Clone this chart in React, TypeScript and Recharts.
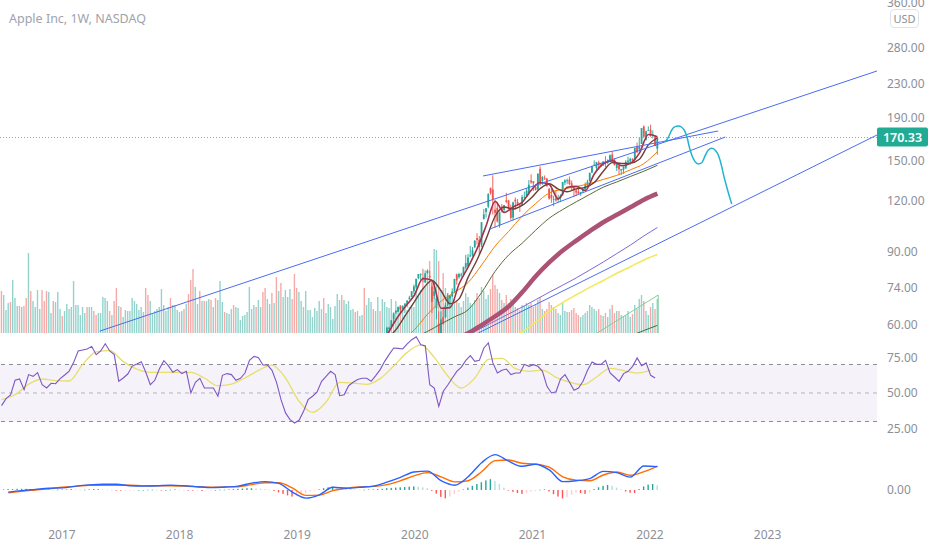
import {
  Bar,
  ComposedChart,
  Line,
  ReferenceArea,
  ReferenceLine,
  XAxis,
  YAxis,
} from 'recharts'

// week 0 is the first weekly bar on screen (mid 2016), week 291 is the week of 24 Jan 2022
const lastBarYear = 2022 + 23 / 365
const barCount = 292
const firstCandleWeek = 171

const yearTicks = [2017, 2018, 2019, 2020, 2021, 2022, 2023]
const priceTicks = [60, 74, 90, 120, 150, 190, 230, 280, 360]
const rsiTicks = [25, 50, 75]
const macdTicks = [0]
const lastPrice = 170.33

// weekly candles, 7 Oct 2019 .. 24 Jan 2022 (older ones sit below the visible price range)
const candleOpen = [
  56.6, 58.7, 59.4, 61.9, 64.3, 64.6, 66.5, 65.7, 66.8, 67.5, 69.2, 70.1, 72.4,
  74.0, 77.9, 79.3, 77.5, 76.1, 80.2, 78.8, 74.3, 70.6, 65.9, 60.5, 57.0, 62.7, 62.7, 67.1, 69.5,
  70.4, 72.3, 79.5, 78.3, 79.0, 79.4, 82.6, 83.3, 87.8, 88.3, 92.5, 97.3, 96.4, 93.7, 108.2, 112.6,
  116.0, 128.7, 127.6, 114.0, 115.2, 104.5, 115.0, 113.9, 120.1, 120.0, 114.0, 109.1, 120.5, 118.9,
  117.2, 117.0, 122.3, 122.6, 125.0, 134.0,
  133.5, 129.2, 127.8, 143.1, 133.75, 136.0, 135.5, 128.0, 123.75, 120.9, 121.4, 120.3, 121.65,
  123.9, 132.5, 133.5, 134.8, 132.0, 129.4, 126.9, 126.0, 125.1, 126.2, 127.8, 130.3, 133.4, 140.1,
  146.2, 143.75, 148.3, 146.4, 146.2, 148.5, 148.3, 149.0, 154.97, 150.6, 143.8, 145.5, 141.8, 142.3,
  143.4, 148.7, 148.99, 151.4, 150.4, 161.7, 159.4, 164.3, 181.1, 168.3, 177.1,
  177.8, 172.3, 171.5, 160.0,
]
const candleHigh = [
  59.4, 59.5, 61.7, 64.0, 65.1, 66.4, 67.0, 66.9, 67.1, 68.8, 70.6, 72.5, 75.2,
  77.6, 79.7, 80.0, 82.0, 81.3, 81.8, 81.2, 76.0, 76.0, 71.6, 64.8, 64.7, 65.6, 67.9, 71.6, 71.0,
  73.6, 77.6, 79.9, 80.2, 80.3, 83.0, 88.7, 89.1, 93.1, 92.6, 96.3, 100.0, 98.5, 106.4, 114.4, 115.0,
  124.9, 128.8, 138.0, 120.5, 118.8, 112.9, 117.7, 117.0, 125.2, 120.4, 117.3, 119.2, 122.0, 121.0,
  117.6, 123.8, 126.0, 128.4, 134.4, 138.8,
  133.6, 131.5, 139.7, 145.1, 137.4, 137.9, 136.0, 128.7, 128.7, 123.2, 127.2, 123.9, 124.2,
  133.0, 135.0, 135.5, 137.1, 134.1, 129.5, 128.0, 128.3, 125.4, 128.5, 132.6, 134.6, 140.0, 145.7,
  150.0, 148.7, 149.8, 148.0, 149.1, 153.5, 150.9, 155.0, 157.3, 151.4, 147.5, 145.7, 143.0, 144.9,
  150.2, 153.2, 152.2, 151.6, 161.0, 165.7, 170.3, 179.6, 182.1, 176.9, 181.3,
  182.9, 177.2, 172.5, 170.4,
]
const candleLow = [
  56.1, 58.1, 59.3, 60.3, 63.8, 64.6, 64.1, 65.6, 64.1, 66.2, 69.2, 70.1, 71.3,
  73.2, 77.4, 77.1, 76.2, 75.8, 79.8, 77.6, 64.1, 69.4, 62.0, 57.0, 53.2, 60.1, 62.3, 66.6, 66.4,
  70.2, 71.6, 75.1, 77.6, 78.3, 79.3, 81.8, 83.1, 87.8, 87.8, 92.0, 93.9, 89.1, 92.5, 107.9, 109.1,
  114.9, 123.9, 110.9, 103.1, 106.1, 103.1, 112.2, 112.3, 118.2, 114.3, 107.7, 107.3, 114.1, 116.8,
  112.6, 116.8, 120.2, 122.3, 123.4, 131.7,
  126.4, 126.9, 126.9, 130.2, 130.9, 134.4, 129.5, 120.5, 118.4, 116.2, 119.2, 118.9, 118.9,
  123.1, 130.6, 131.3, 130.6, 126.7, 122.3, 122.9, 124.6, 123.1, 125.2, 127.1, 129.2, 133.4, 140.0,
  145.8, 141.7, 142.5, 144.5, 145.2, 144.5, 146.8, 148.6, 148.7, 145.8, 141.3, 138.3, 138.3, 139.2,
  143.2, 146.4, 146.4, 147.5, 149.3, 156.4, 157.8, 164.3, 169.7, 167.5, 176.8,
  171.0, 169.4, 162.3, 154.7,
]
const candleClose = [
  59.1, 59.1, 61.6, 64.0, 65.0, 66.4, 65.4, 66.8, 67.7, 68.8, 69.9, 72.4, 74.4,
  77.6, 79.7, 79.6, 77.4, 80.0, 81.2, 78.3, 68.3, 72.3, 69.5, 57.3, 61.9, 60.4, 67.0, 70.7, 70.7,
  72.3, 77.5, 76.9, 79.7, 79.5, 82.9, 84.7, 87.4, 88.4, 91.0, 95.9, 96.3, 92.6, 106.3, 111.1, 114.9,
  124.4, 124.8, 121.0, 112.0, 106.8, 112.3, 113.0, 117.0, 119.0, 115.0, 108.9, 118.7, 119.3, 117.3,
  116.6, 122.3, 122.4, 126.7, 131.0, 132.7,
  132.1, 127.1, 139.1, 132.0, 136.8, 135.4, 129.9, 121.3, 121.4, 121.0, 120.0, 121.2, 123.0,
  133.0, 134.2, 134.3, 131.5, 130.2, 127.5, 125.4, 124.6, 125.9, 127.4, 130.5, 133.1, 140.0, 145.1,
  146.4, 148.6, 145.9, 146.1, 149.1, 148.2, 148.6, 154.3, 149.0, 146.1, 146.9, 142.7, 142.9, 144.9,
  148.7, 149.8, 151.3, 150.0, 160.6, 156.8, 161.8, 179.5, 171.1, 176.3, 177.6,
  172.2, 173.1, 162.4, 170.3,
]

// weekly volume (relative units), one per bar from week 0
const volume = [
  42, 38, 23, 30, 31, 53, 35, 27, 27, 26, 27, 35, 80, 42, 32, 26, 43, 24, 43, 32,
  42, 41, 20, 32, 31, 41, 24, 17, 22, 29, 24, 26, 52, 28, 28, 18, 26, 20, 26, 26,
  26, 22, 18, 20, 20, 36, 35, 32, 22, 18, 32, 45, 27, 26, 16, 23, 22, 22, 35, 32,
  29, 23, 26, 21, 45, 38, 32, 20, 22, 24, 26, 44, 28, 22, 26, 35, 28, 28, 23, 21,
  22, 24, 29, 39, 53, 64, 46, 29, 42, 32, 32, 32, 34, 33, 26, 35, 33, 52,
  31, 21, 20, 19, 24, 28, 26, 25, 13, 17, 18, 21, 46, 24, 28, 26, 33, 26, 41, 45,
  34, 29, 40, 30, 56, 42, 50, 36, 43, 36, 44, 34, 59, 45, 41, 32, 26, 42, 23, 23,
  16, 25, 22, 32, 24, 35, 20, 29, 26, 14, 27, 39, 33, 38, 33, 29, 32, 23, 24, 21,
  22, 17, 18, 45, 28, 35, 31, 24, 22, 36, 22, 34, 31, 26, 25, 34, 21, 32, 24, 28,
  26, 18, 23, 26, 28, 26, 42, 37, 43, 56, 46, 62, 72, 52, 84, 83, 72, 43,
  60, 45, 40, 36, 38, 34, 33, 30, 26, 32, 40, 36, 30, 28, 33, 40, 35, 46, 42, 34,
  38, 44, 58, 48, 44, 40, 33, 30, 38, 30, 34, 30, 26, 25, 23, 28, 27, 30, 28, 30,
  26, 28, 33, 36, 24, 22, 24, 31, 28, 26, 24, 20, 18, 30, 22, 21, 21, 23, 25, 20,
  18, 16, 18, 20, 22, 28, 26, 24, 22, 24, 18, 17, 20, 16, 24, 28, 20, 22, 22, 18,
  17, 18, 22, 16, 19, 28, 24, 34, 38, 32, 22, 18, 26, 30, 24, 34,
]
// up (g) / down (r) weeks before the candles come into view
const volumeDirEarly = [
  'rgggrgggrg', 'rrgrggggrr', 'rggrgggrgg', 'ggggggggrg', 'grrgggggrg',
  'rrgrgggggg', 'ggggrrgggg', 'gggggrgggg', 'grgrrrggrg', 'rggrgrgg',
  'grgggrgggg', 'gggggrggrr', 'ggrgrgrggg', 'grrrgggggg', 'gggggrgggg',
  'g', 'ggrgggggrg', 'ggrgggrggr', 'gg',
].join('')

// moving averages on price, sampled every few weeks
const maFast = [
  56.7, 61.8, 66.3, 70.6, 77.7, 77.0, 65.9, 66.1, 75.4, 82.8, 91.8, 104.2, 119.4, 112.2, 115.7, 118.8,
  127.0, 132.6, 131.1, 121.0, 129.1, 129.8, 126.8, 139.0, 147.2, 149.8, 145.5, 147.5, 156.1, 173.2, 171.1,
]
const maSlow = [
  55.5, 58.5, 63.1, 68.1, 73.4, 76.9, 72.6, 67.6, 69.4, 78.2, 86.3, 96.9, 109.9, 115.7, 114.4, 116.7,
  121.6, 128.2, 131.7, 127.8, 125.9, 128.0, 129.1, 132.6, 141.2, 148.1, 147.4, 147.7, 150.9, 163.5, 170.1,
]
const maOrange = [
  55.0, 58.3, 63.7, 68.5, 72.0, 76.0, 83.8, 93.1, 101.0, 110.0, 118.0, 125.1, 127.7, 129.6, 131.9,
  134.9, 138.0, 142.3, 147.3, 157.5,
]
const maOlive = [
  56.0, 57.9, 60.4, 62.8, 65.3, 71.9, 80.9, 88.6, 94.6, 101.7, 108.7, 114.1, 119.1, 124.1, 129.2,
  133.0, 137.1, 141.2, 145.9,
]
const maMauve = [
  55.5, 57.3, 60.0, 63.0, 66.5, 72.0, 78.7, 85.0, 90.8, 96.0, 101.2, 106.3, 110.8, 115.5, 120.5, 124.6,
]
const maPurple = [56.8, 59.0, 61.4, 63.8, 66.3, 69.1, 72.0, 74.9, 78.0, 81.5, 85.2, 89.3, 93.6, 98.5, 103.2]
const maYellow = [55.8, 57.8, 61.0, 64.8, 68.0, 71.0, 74.0, 76.9, 80.0, 83.0, 86.2, 88.8]
const maGreen = [56.5, 58.2, 59.9]

// RSI every 2 weeks from week 0, its moving average every 6 weeks
const rsi = [
  41.1, 46.0, 48.6, 58.9, 59.8, 52.3, 62.9, 61.7, 64.3, 55.8,
  53.5, 56.8, 56.5, 60.1, 62.6, 65.4, 71.5, 79.5, 80.2, 80.9,
  82.7, 76.9, 79.5, 84.6, 79.5, 76.9, 58.2, 60.5, 63.3, 68.9,
  70.4, 72.0, 64.5, 55.8, 58.9, 66.8, 72.7, 69.2, 64.5, 66.4,
  63.6, 65.2, 50.0, 57.5, 60.3, 53.5, 53.5, 53.5, 47.7, 62.4,
  63.6, 62.9, 58.9, 60.3, 64.0, 72.9, 75.7, 74.8, 69.6, 69.6,
  65.9, 57.5, 45.3, 36.0, 31.3, 28.9, 30.8, 37.1, 45.3, 47.7,
  50.7, 58.2, 61.7, 65.2, 62.9, 48.1, 48.8, 55.1, 57.5, 59.4,
  60.3, 60.3, 58.2, 62.2, 66.4, 72.2, 77.1, 81.6, 81.3, 80.9,
  84.4, 87.4, 89.5, 83.9, 83.2, 55.8, 53.5, 40.6, 51.2, 55.6,
  60.5, 65.2, 68.2, 72.9, 76.2, 72.2, 72.9, 81.6, 85.1, 71.1,
  64.0, 65.9, 66.8, 62.9, 64.0, 64.0, 70.1, 68.7, 69.9, 68.7,
  65.2, 54.7, 50.0, 50.9, 59.8, 62.9, 57.5, 51.9, 53.5, 58.2,
  65.9, 71.8, 70.1, 70.1, 72.9, 64.0, 61.2, 58.2, 63.6, 65.2,
  68.7, 74.6, 69.2, 71.1, 62.4, 60.5,
]
const rsiMa = [
  45.3, 48.8, 56.1, 59.8, 58.7, 58.4, 70.1, 78.8, 79.7, 72.0,
  66.8, 64.5, 64.5, 64.5, 64.5, 60.5, 55.1, 56.3, 60.5, 65.9,
  69.6, 60.5, 44.2, 36.4, 43.7, 57.5, 57.0, 56.1, 60.1, 68.9,
  78.5, 83.7, 75.0, 61.9, 53.5, 60.5, 73.6, 74.3, 67.1, 65.2,
  66.1, 61.0, 57.7, 55.8, 61.2, 67.3, 65.7, 64.0, 66.1,
]

// MACD and signal every 6 weeks from week 3, histogram every 2 weeks from week 1
const macd = [
  -0.7, -0.2, 0.2, 0.6, 0.7, 1.3, 1.7, 1.9, 1.9, 1.4, 1.3, 1.4, 1.6, 1.4, 1.1, 0.8, 1.0, 1.3, 2.3,
  2.8, 2.2, -0.7, -2.7, -1.6, 0.9, 0.6, 0.9, 1.3, 2.6, 4.2, 6.0, 6.3, 3.1, 1.6, 4.4, 9.1, 11.8,
  9.6, 7.9, 8.6, 6.7, 2.8, 3.1, 3.8, 6.2, 5.8, 4.3, 8.0, 7.8,
]
const macdSignal = [
  -0.9, -0.4, 0.0, 0.4, 0.9, 1.2, 1.6, 1.6, 1.6, 1.6, 1.4, 1.4, 1.4, 1.3, 1.1, 0.9, 1.0, 1.1, 1.8,
  2.4, 2.4, 0.7, -1.8, -1.7, -0.2, 0.6, 1.0, 1.2, 1.8, 3.1, 4.7, 5.8, 4.4, 2.7, 3.1, 6.1, 9.8,
  10.0, 8.9, 8.6, 7.6, 4.4, 3.3, 3.1, 5.0, 6.0, 4.9, 6.1, 8.0,
]
const macdHist = [
  0.2, 0.3, 0.3, 0.4, 0.4, 0.4, 0.3, 0.3, 0.3, 0.2, 0.2,
  0.1, 0.1, 0.2, 0.2, 0.3, 0.2, 0.1, 0.1, 0.2, 0.3, 0.3, 0.2,
  0.1, 0.0, -0.1, -0.2, -0.2, -0.1, -0.1, 0.0, 0.0, 0.1, 0.1, 0.0,
  -0.1, 0.0, 0.1, 0.2, 0.1, 0.0, -0.1, -0.2, -0.2, -0.3, -0.2, -0.1,
  0.0, 0.1, 0.1, 0.2, 0.3, 0.4, 0.5, 0.6, 0.6, 0.5, 0.4, 0.3,
  0.1, -0.3, -0.8, -1.3, -1.8, -2.2, -2.0, -1.5, -1.0, -0.5, -0.1, 0.2,
  0.6, 0.9, 1.1, 0.9, 0.7, 0.5, 0.3, 0.2, 0.1, 0.1, 0.2, 0.2,
  0.3, 0.4, 0.6, 0.7, 0.8, 0.9, 1.0, 1.1, 1.2, 1.1, 0.9, 0.6,
  -0.3, -1.2, -2.3, -2.8, -2.2, -1.4, -0.6, 0.2, 0.8, 1.4, 2.0, 2.6,
  3.2, 3.6, 3.0, 2.0, 0.8, -0.2, -0.6, -1.0, -1.3, -1.0, -0.6, -0.3,
  0.1, 0.2, -0.5, -1.4, -2.2, -2.8, -2.4, -1.6, -0.8, -1.0, -1.3, -0.9,
  0.3, 0.9, 1.4, 1.7, 1.4, 0.8, 0.2, -0.5, -0.9, -1.0, 0.3, 1.2,
  1.8, 2.0, 1.6,
]

// drawings: trend lines [year, price, year, price]
const trendLines = [
  [2017.32, 58.0, 2023.93, 246.6],
  [2020.54, 57.4, 2023.93, 172.7],
  [2020.58, 137.5, 2022.58, 176.6],
  [2020.64, 102.4, 2022.64, 170.8],
]
const projectionLines = [
  [2021.55, 57.4, 2022.07, 70.9],
  [2022.07, 70.9, 2022.07, 57.4],
]
const forecastYear = [
  2022.128, 2022.156, 2022.185, 2022.213, 2022.241, 2022.27, 2022.298, 2022.317, 2022.334, 2022.355,
  2022.383, 2022.411, 2022.44, 2022.468, 2022.496, 2022.525, 2022.553, 2022.581, 2022.61, 2022.629,
  2022.652, 2022.68, 2022.695,
]
const forecastPrice = [
  166.4, 170.5, 177.6, 180.9, 181.6, 180.3, 176.0, 169.6, 161.8, 154.5, 148.9, 147.0, 148.0, 153.7,
  158.9, 160.4, 158.9, 154.5, 144.8, 137.0, 129.5, 121.4, 117.6,
]

const xDomain = [2016.4728, 2023.9303]
const chartWidth = 932
const axisWidth = 55
const font = '"Noto Sans", sans-serif'
const axisText = { fill: '#8c8f98', fontSize: 12 }
const upColor = '#26a69a'
const downColor = '#ef5350'

const weekToYear = (week: number) => lastBarYear - ((barCount - 1 - week) * 7) / 365.25

const series = (values: number[], startWeek: number, step: number) =>
  values.map((v, k) => ({ t: weekToYear(startWeek + k * step), v }))

const candles = candleOpen.map((open, i) => ({
  t: weekToYear(firstCandleWeek + i),
  open,
  high: candleHigh[i],
  low: candleLow[i],
  close: candleClose[i],
  range: [candleLow[i], candleHigh[i]],
}))

const volumeData = volume.map((v, i) => {
  const c = i - firstCandleWeek
  const up = c >= 0 ? candleClose[c] >= candleOpen[c] : volumeDirEarly[i] === 'g'
  return { t: weekToYear(i), v, up }
})

const histData = macdHist.map((v, k) => {
  const prev = k > 0 ? macdHist[k - 1] : v
  const color =
    v >= 0 ? (v >= prev ? '#26a69a' : '#b2dfdb') : v < prev ? '#ff5252' : '#ffcdd2'
  return { t: weekToYear(1 + k * 2), v, color }
})

const forecastData = forecastYear.map((t, i) => ({ t, v: forecastPrice[i] }))

function CandleShape(props: any) {
  const { x, y, width, height, payload } = props
  if (x == null || !payload) return null
  const top = Math.min(y, y + height)
  const span = Math.abs(height)
  const cx = x + width / 2
  const { open, close, high, low } = payload
  const logSpan = Math.log(high) - Math.log(low) || 1
  const at = (p: number) => top + (span * (Math.log(high) - Math.log(p))) / logSpan
  const color = close >= open ? upColor : downColor
  const bodyTop = at(Math.max(open, close))
  const bodyBottom = at(Math.min(open, close))
  return (
    <g>
      <line x1={cx} x2={cx} y1={top} y2={top + span} stroke={color} strokeWidth={0.9} />
      <rect
        x={cx - 0.9}
        y={bodyTop}
        width={1.8}
        height={Math.max(0.8, bodyBottom - bodyTop)}
        fill={color}
      />
    </g>
  )
}

function VolumeShape(props: any) {
  const { x, y, width, height, payload } = props
  if (x == null || !payload || !height) return null
  return (
    <rect
      x={x + width / 2 - 0.7}
      y={Math.min(y, y + height)}
      width={1.4}
      height={Math.abs(height)}
      fill={payload.up ? '#93d3cc' : '#f6aaa8'}
    />
  )
}

function HistShape(props: any) {
  const { x, y, width, height, payload } = props
  if (x == null || !payload) return null
  return (
    <rect
      x={x + width / 2 - 0.7}
      y={Math.min(y, y + height)}
      width={1.4}
      height={Math.max(0.6, Math.abs(height))}
      fill={payload.color}
    />
  )
}

function PriceTag(props: any) {
  const { viewBox } = props
  if (!viewBox) return null
  const x = viewBox.x + viewBox.width
  const y = viewBox.y
  return (
    <g>
      <rect x={x} y={y - 10} width={51} height={19} rx={2} fill="#22ab94" />
      <text
        x={x + 25.5}
        y={y}
        dy="0.35em"
        textAnchor="middle"
        fill="#ffffff"
        fontSize={12.5}
        fontWeight={600}
      >
        {lastPrice.toFixed(2)}
      </text>
    </g>
  )
}

function maLine(values: number[], start: number, step: number, color: string, width: number) {
  return (
    <Line
      data={series(values, start, step)}
      dataKey="v"
      type="monotone"
      stroke={color}
      strokeWidth={width}
      dot={false}
      activeDot={false}
      isAnimationActive={false}
    />
  )
}

function VolumeChart() {
  return (
    <ComposedChart
      width={chartWidth}
      height={333}
      data={volumeData}
      margin={{ top: 0, right: axisWidth, bottom: 0, left: 0 }}
    >
      <XAxis type="number" dataKey="t" domain={xDomain} allowDataOverflow hide />
      <YAxis domain={[0, 333]} allowDataOverflow hide />
      <Bar dataKey="v" barSize={2} shape={(p: any) => <VolumeShape {...p} />} isAnimationActive={false} />
    </ComposedChart>
  )
}

function PriceChart() {
  return (
    <ComposedChart
      width={chartWidth}
      height={333}
      data={candles}
      margin={{ top: 0, right: 0, bottom: 0, left: 0 }}
    >
      <XAxis type="number" dataKey="t" domain={xDomain} allowDataOverflow hide />
      <YAxis
        orientation="right"
        width={axisWidth}
        scale="log"
        domain={[57.4, 366]}
        allowDataOverflow
        ticks={priceTicks}
        interval={0}
        tickFormatter={(v: number) => v.toFixed(2)}
        tick={axisText}
        tickSize={6}
        tickMargin={4}
        axisLine={false}
        tickLine={false}
      />
      <ReferenceLine
        y={lastPrice}
        stroke="#5fc2b6"
        strokeWidth={1}
        strokeDasharray="1 2"
        label={<PriceTag />}
      />
      {maLine(maGreen, 279, 6, '#2e7d32', 1)}
      {maLine(maYellow, 225, 6, '#f2e85c', 1.6)}
      {maLine(maPurple, 207, 6, '#7c6ad6', 1)}
      {maLine(maMauve, 201, 6, '#ab5275', 4.5)}
      {maLine(maOlive, 183, 6, '#5b6a3a', 1)}
      {maLine(maOrange, 177, 6, '#f57c00', 1)}
      <Bar dataKey="range" barSize={2} shape={(p: any) => <CandleShape {...p} />} isAnimationActive={false} />
      {maLine(maSlow, 171, 4, '#6e3f37', 1.4)}
      {maLine(maFast, 171, 4, '#a3324a', 1.6)}
      {trendLines.map(([t1, p1, t2, p2], i) => (
        <ReferenceLine
          key={`trend-${i}`}
          segment={[
            { x: t1, y: p1 },
            { x: t2, y: p2 },
          ]}
          stroke="#4a6cf0"
          strokeWidth={1}
          ifOverflow="hidden"
        />
      ))}
      {projectionLines.map(([t1, p1, t2, p2], i) => (
        <ReferenceLine
          key={`proj-${i}`}
          segment={[
            { x: t1, y: p1 },
            { x: t2, y: p2 },
          ]}
          stroke="#7fcf9c"
          strokeWidth={1}
          ifOverflow="hidden"
        />
      ))}
      <Line
        data={forecastData}
        dataKey="v"
        type="monotone"
        stroke="#22b3d2"
        strokeWidth={1.5}
        dot={false}
        activeDot={false}
        isAnimationActive={false}
      />
    </ComposedChart>
  )
}

function RsiChart() {
  return (
    <ComposedChart width={chartWidth} height={107} margin={{ top: 0, right: 0, bottom: 0, left: 0 }}>
      <XAxis type="number" dataKey="t" domain={xDomain} allowDataOverflow hide />
      <YAxis
        orientation="right"
        width={axisWidth}
        domain={[17, 92.1]}
        allowDataOverflow
        ticks={rsiTicks}
        interval={0}
        tickFormatter={(v: number) => v.toFixed(2)}
        tick={axisText}
        tickSize={6}
        tickMargin={4}
        axisLine={false}
        tickLine={false}
      />
      <ReferenceArea y1={30} y2={70} fill="#7e57c2" fillOpacity={0.08} stroke="none" />
      <ReferenceLine y={70} stroke="#8a8d96" strokeDasharray="4 4" />
      <ReferenceLine y={50} stroke="#8a8d96" strokeOpacity={0.6} strokeDasharray="4 4" />
      <ReferenceLine y={30} stroke="#8a8d96" strokeDasharray="4 4" />
      <Line
        data={series(rsiMa, 0, 6)}
        dataKey="v"
        type="monotone"
        stroke="#e8de6a"
        strokeWidth={1.3}
        dot={false}
        activeDot={false}
        isAnimationActive={false}
      />
      <Line
        data={series(rsi, 0, 2)}
        dataKey="v"
        type="linear"
        stroke="#7e57c2"
        strokeWidth={1.1}
        dot={false}
        activeDot={false}
        isAnimationActive={false}
      />
    </ComposedChart>
  )
}

function MacdChart() {
  return (
    <ComposedChart
      width={chartWidth}
      height={110}
      data={histData}
      margin={{ top: 0, right: 0, bottom: 0, left: 0 }}
    >
      <XAxis
        type="number"
        dataKey="t"
        domain={xDomain}
        allowDataOverflow
        ticks={yearTicks}
        interval={0}
        height={28}
        tick={axisText}
        axisLine={false}
        tickLine={false}
      />
      <YAxis
        orientation="right"
        width={axisWidth}
        domain={[-10.67, 16.67]}
        allowDataOverflow
        ticks={macdTicks}
        interval={0}
        tickFormatter={(v: number) => v.toFixed(2)}
        tick={axisText}
        tickSize={6}
        tickMargin={4}
        axisLine={false}
        tickLine={false}
      />
      <Bar dataKey="v" barSize={2} shape={(p: any) => <HistShape {...p} />} isAnimationActive={false} />
      <Line
        data={series(macdSignal, 3, 6)}
        dataKey="v"
        type="monotone"
        stroke="#ff6d00"
        strokeWidth={1.4}
        dot={false}
        activeDot={false}
        isAnimationActive={false}
      />
      <Line
        data={series(macd, 3, 6)}
        dataKey="v"
        type="monotone"
        stroke="#2962ff"
        strokeWidth={1.4}
        dot={false}
        activeDot={false}
        isAnimationActive={false}
      />
    </ComposedChart>
  )
}

export default function App() {
  return (
    <div
      style={{
        position: 'absolute',
        left: 0,
        top: 0,
        width: 932,
        height: 550,
        background: '#ffffff',
        overflow: 'hidden',
        fontFamily: font,
      }}
    >
      <div style={{ position: 'absolute', left: 0, top: 0 }}>
        <VolumeChart />
      </div>
      <div style={{ position: 'absolute', left: 0, top: 0 }}>
        <PriceChart />
      </div>
      <div style={{ position: 'absolute', left: 0, top: 333 }}>
        <RsiChart />
      </div>
      <div style={{ position: 'absolute', left: 0, top: 440 }}>
        <MacdChart />
      </div>
      <div
        style={{
          position: 'absolute',
          left: 9,
          top: 10,
          fontSize: 12.5,
          color: '#a0a3ac',
          whiteSpace: 'nowrap',
        }}
      >
        Apple Inc, 1W, NASDAQ
      </div>
      <div
        style={{
          position: 'absolute',
          left: 890,
          top: 9,
          width: 27,
          height: 17,
          lineHeight: '17px',
          textAlign: 'center',
          fontSize: 11,
          color: '#8c8f98',
          background: '#ffffff',
          border: '1px solid #e0e3eb',
          borderRadius: 4,
        }}
      >
        USD
      </div>
    </div>
  )
}
